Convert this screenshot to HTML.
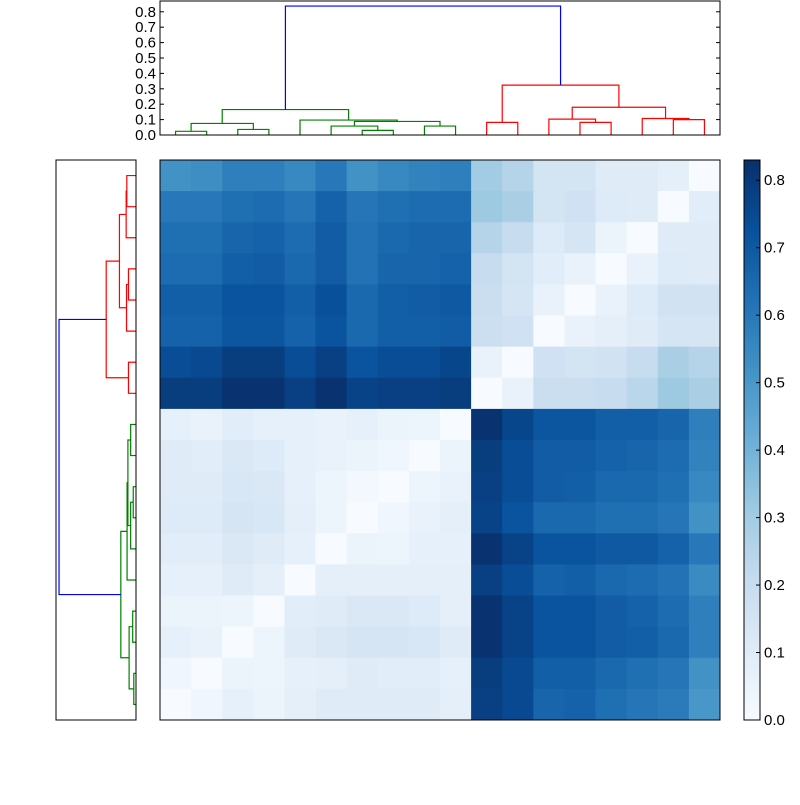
<!DOCTYPE html>
<html><head><meta charset="utf-8"><style>
body{margin:0;background:#fff;}
svg text{font-family:"Liberation Sans",sans-serif;font-size:15px;fill:#000;}
</style></head><body>
<svg id="s" width="800" height="800" xmlns="http://www.w3.org/2000/svg"></svg>
<script>
// matrix rows as displayed (top row = leaf 17)
const matrixRows = [
[0.52,0.53,0.58,0.58,0.55,0.60,0.52,0.55,0.57,0.58,0.30,0.25,0.15,0.15,0.10,0.10,0.08,0.00],
[0.60,0.60,0.63,0.64,0.61,0.67,0.61,0.63,0.64,0.64,0.31,0.28,0.15,0.17,0.11,0.10,0.00,0.09],
[0.63,0.63,0.66,0.67,0.64,0.69,0.62,0.65,0.66,0.66,0.25,0.20,0.11,0.14,0.05,0.00,0.10,0.10],
[0.64,0.64,0.68,0.69,0.65,0.69,0.62,0.66,0.66,0.67,0.20,0.15,0.09,0.06,0.00,0.06,0.11,0.10],
[0.68,0.68,0.72,0.72,0.68,0.73,0.65,0.68,0.69,0.70,0.19,0.14,0.06,0.00,0.06,0.11,0.16,0.16],
[0.67,0.67,0.71,0.71,0.67,0.72,0.65,0.68,0.68,0.69,0.18,0.17,0.00,0.06,0.08,0.10,0.14,0.14],
[0.74,0.75,0.79,0.79,0.74,0.78,0.72,0.74,0.74,0.76,0.06,0.00,0.17,0.15,0.16,0.20,0.28,0.25],
[0.79,0.79,0.82,0.82,0.78,0.82,0.77,0.78,0.78,0.79,0.00,0.06,0.19,0.19,0.20,0.24,0.31,0.28],
[0.07,0.06,0.09,0.07,0.07,0.06,0.07,0.05,0.04,0.00,0.82,0.76,0.71,0.71,0.68,0.68,0.66,0.58],
[0.10,0.09,0.12,0.11,0.07,0.06,0.05,0.03,0.00,0.05,0.79,0.74,0.69,0.69,0.67,0.66,0.64,0.57],
[0.10,0.10,0.13,0.12,0.07,0.04,0.02,0.00,0.04,0.06,0.78,0.74,0.69,0.68,0.65,0.65,0.63,0.55],
[0.11,0.11,0.14,0.13,0.08,0.04,0.00,0.03,0.06,0.08,0.77,0.72,0.65,0.65,0.63,0.63,0.61,0.52],
[0.09,0.09,0.12,0.10,0.07,0.00,0.05,0.04,0.07,0.07,0.82,0.77,0.72,0.72,0.70,0.70,0.67,0.60],
[0.07,0.07,0.10,0.08,0.00,0.08,0.08,0.08,0.08,0.08,0.78,0.74,0.67,0.68,0.65,0.64,0.62,0.54],
[0.05,0.05,0.04,0.00,0.09,0.10,0.12,0.12,0.11,0.08,0.82,0.77,0.72,0.72,0.69,0.67,0.64,0.58],
[0.07,0.06,0.00,0.04,0.10,0.12,0.14,0.14,0.13,0.10,0.82,0.77,0.72,0.72,0.69,0.68,0.65,0.58],
[0.03,0.00,0.05,0.04,0.07,0.08,0.10,0.09,0.09,0.07,0.79,0.75,0.68,0.68,0.65,0.63,0.61,0.52],
[0.00,0.03,0.07,0.05,0.08,0.10,0.10,0.10,0.10,0.08,0.78,0.75,0.66,0.67,0.63,0.61,0.59,0.50]
];
// linkage: children of each merge (leaves 0..17, merge k creates node 18+k) and merge heights
const childA  = [0, 2, 18, 6, 5, 8, 22, 4, 20, 10, 13, 12, 16, 15, 29, 27, 26];
const childB  = [1, 3, 19, 7, 21, 9, 23, 24, 25, 11, 14, 28, 17, 30, 31, 32, 33];
const heights = [0.024,0.036,0.075,0.030,0.058,0.058,0.088,0.097,0.165,0.082,0.082,0.103,0.100,0.107,0.180,0.324,0.837];
const yTicks = [0.0,0.1,0.2,0.3,0.4,0.5,0.6,0.7,0.8];
const cbTicks = [0.0,0.1,0.2,0.3,0.4,0.5,0.6,0.7,0.8];
const VMAX = 0.83, DMAX = 0.87;
const NS='http://www.w3.org/2000/svg', svg=document.getElementById('s');
function mk(t,a,p){const e=document.createElementNS(NS,t);for(const k in a)e.setAttribute(k,a[k]);(p||svg).appendChild(e);return e;}
const stops=[[0,[247,251,255]],[0.125,[222,235,247]],[0.25,[198,219,239]],[0.375,[158,202,225]],[0.5,[107,174,214]],[0.625,[66,146,198]],[0.75,[33,113,181]],[0.875,[8,81,156]],[1,[8,48,107]]];
function cmap(v){let t=Math.max(0,Math.min(1,v/VMAX));for(let i=1;i<stops.length;i++){if(t<=stops[i][0]){const a=stops[i-1],b=stops[i],f=(t-a[0])/(b[0]-a[0]);return 'rgb('+a[1].map((c,j)=>Math.round(c+(b[1][j]-c)*f)).join(',')+')';}}return 'rgb(8,48,107)';}
const HX=160,HY=160,HW=560,N=18,cw=HW/N;
const gH=mk('g',{});


matrixRows.forEach((row,r)=>row.forEach((v,c)=>{const e=mk('rect',{x:HX+c*cw,y:HY+r*cw,width:cw+0.5,height:cw+0.5,fill:cmap(v)},gH);

}));
const hf=mk('rect',{x:HX,y:HY,width:HW,height:HW,fill:'none',stroke:'#000','stroke-width':1});


const nodeX={},nodeH={};
for(let i=0;i<N;i++){nodeX[i]=i+0.5;nodeH[i]=0;}
const nLinks=heights.length;
const colors=[];
for(let k=0;k<nLinks;k++){const id=N+k;nodeX[id]=(nodeX[childA[k]]+nodeX[childB[k]])/2;nodeH[id]=heights[k];colors.push(k===nLinks-1?'#0000ff':(k<=8?'#008000':'#ff0000'));}
const TX=160,TY=1,TW=560,TH=134;
const gT=mk('g',{});


const tx=u=>TX+u/N*TW, ty=h=>TY+TH-h/DMAX*TH;
for(let k=0;k<nLinks;k++){const a=childA[k],b=childB[k],id=N+k;
const p=mk('polyline',{points:`${tx(nodeX[a])},${ty(nodeH[a])} ${tx(nodeX[a])},${ty(nodeH[id])} ${tx(nodeX[b])},${ty(nodeH[id])} ${tx(nodeX[b])},${ty(nodeH[b])}`,fill:'none',stroke:colors[k],'stroke-width':1.2},gT);

}
mk('rect',{x:TX,y:TY,width:TW,height:TH,fill:'none',stroke:'#000','stroke-width':1},gT);
yTicks.forEach(v=>{const y=ty(v);mk('line',{x1:TX,x2:TX+4,y1:y,y2:y,stroke:'#000'},gT);mk('line',{x1:TX+TW-4,x2:TX+TW,y1:y,y2:y,stroke:'#000'},gT);
const t=mk('text',{x:TX-4,y:y+5,'text-anchor':'end'},gT);t.textContent=v.toFixed(1);

});
const LX=56,LY=160,LW=80,LH=560;
const gL=mk('g',{});


const ly=u=>LY+(N-u)/N*LH, lx=h=>LX+LW-h/DMAX*LW;
for(let k=0;k<nLinks;k++){const a=childA[k],b=childB[k],id=N+k;
const p=mk('polyline',{points:`${lx(nodeH[a])},${ly(nodeX[a])} ${lx(nodeH[id])},${ly(nodeX[a])} ${lx(nodeH[id])},${ly(nodeX[b])} ${lx(nodeH[b])},${ly(nodeX[b])}`,fill:'none',stroke:colors[k],'stroke-width':1.2},gL);

}
mk('rect',{x:LX,y:LY,width:LW,height:LH,fill:'none',stroke:'#000','stroke-width':1},gL);
const CX=744,CY=160,CW=16,CH=560;
const gC=mk('g',{});


const defs=mk('defs',{});const lg=mk('linearGradient',{id:'cb',x1:0,y1:1,x2:0,y2:0},defs);
stops.forEach(s=>mk('stop',{offset:s[0],'stop-color':'rgb('+s[1].join(',')+')'},lg));
mk('rect',{x:CX,y:CY,width:CW,height:CH,fill:'url(#cb)',stroke:'#000','stroke-width':1},gC);
cbTicks.forEach(v=>{const y=CY+CH-v/VMAX*CH;mk('line',{x1:CX+CW-4,x2:CX+CW,y1:y,y2:y,stroke:'#000'},gC);
const t=mk('text',{x:CX+CW+4,y:y+5},gC);t.textContent=v.toFixed(1);

});
</script>
</body></html>
